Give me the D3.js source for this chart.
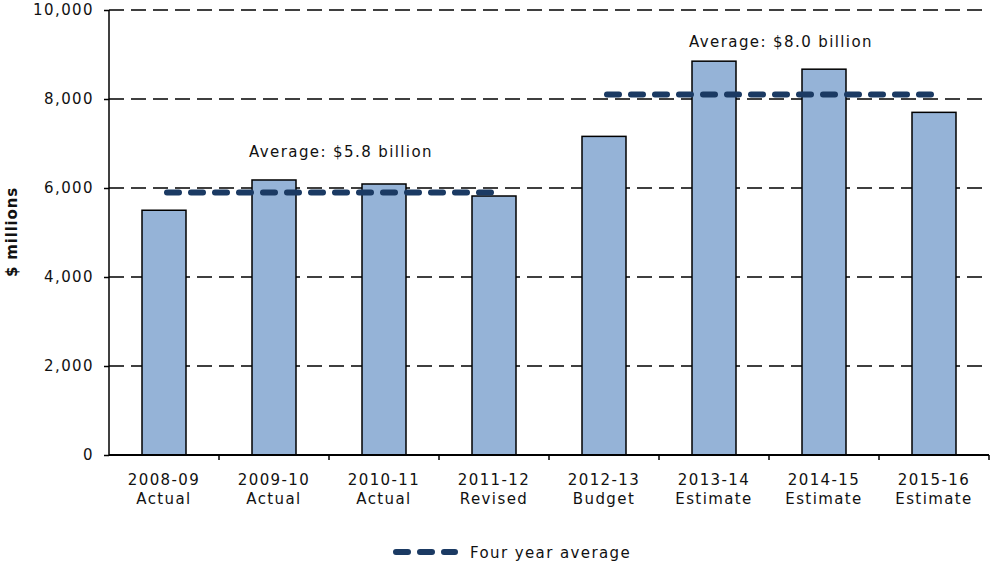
<!DOCTYPE html>
<html><head><meta charset="utf-8">
<script src="https://cdn.jsdelivr.net/npm/d3@7"></script>
<style>body{margin:0;background:#fff}svg text{font-family:"DejaVu Sans",Verdana,sans-serif;fill:#111}</style>
</head><body><svg id="c" width="990" height="566"></svg>
<script>
const years = ["2008-09","2009-10","2010-11","2011-12","2012-13","2013-14","2014-15","2015-16"];
const stages = ["Actual","Actual","Actual","Revised","Budget","Estimate","Estimate","Estimate"];
const values = [5500,6180,6090,5820,7160,8850,8670,7700];
const yTicks = [0,2000,4000,6000,8000,10000];
const averages = [
  {from:"2008-09", to:"2011-12", value:5900, label:"Average: $5.8 billion", labelValue:6700},
  {from:"2012-13", to:"2015-16", value:8100, label:"Average: $8.0 billion", labelValue:9170}
];

const svg = d3.select("#c");
const m = {l:109, r:989, t:10, b:455};
const xb = d3.scaleBand().domain(years).range([m.l, m.r]);
const y = d3.scaleLinear().domain([0,10000]).range([m.b, m.t]);
const FS = "15px", LS = "1.4px";

// gridlines
svg.append("g").selectAll("line").data(yTicks.filter(d=>d>0)).join("line")
  .attr("x1", m.l).attr("x2", m.r).attr("y1", d=>y(d)).attr("y2", d=>y(d))
  .attr("stroke","#000").attr("stroke-width",1.5).attr("stroke-dasharray","15,7");

// bars
svg.append("g").selectAll("rect").data(values).join("rect")
  .attr("x",(d,i)=>xb(years[i])+xb.bandwidth()/2-22)
  .attr("width",44)
  .attr("y",d=>y(d)).attr("height",d=>y(0)-y(d))
  .attr("fill","#95b3d7").attr("stroke","#000").attr("stroke-width",1.5);

// y axis
const ya = svg.append("g").attr("transform",`translate(${m.l},0)`)
  .call(d3.axisLeft(y).tickValues(yTicks).tickFormat(d3.format(",")).tickSize(5).tickPadding(10));
ya.select(".domain").attr("stroke","#000").attr("stroke-width",1.5).attr("d",`M0,${m.b}V${m.t}`);
ya.selectAll(".tick line").attr("stroke","#000").attr("stroke-width",1.5);
ya.selectAll("text").style("font-size",FS).style("letter-spacing",LS).attr("fill","#111");

// x axis
const xa = svg.append("g").attr("transform",`translate(0,${m.b})`)
  .call(d3.axisBottom(xb).tickSize(0).tickFormat(""));
xa.select(".domain").attr("stroke","#000").attr("stroke-width",2).attr("d",`M${m.l},0H${m.r}`);
svg.append("g").selectAll("line").data(years).join("line")
  .attr("x1",d=>xb(d)+xb.bandwidth()).attr("x2",d=>xb(d)+xb.bandwidth())
  .attr("y1",m.b).attr("y2",m.b+5).attr("stroke","#000").attr("stroke-width",1.5);
const xl = svg.append("g").selectAll("text").data(years).join("text")
  .attr("x",d=>xb(d)+xb.bandwidth()/2).attr("y",m.b+30)
  .attr("text-anchor","middle").style("font-size",FS).style("letter-spacing",LS);
xl.append("tspan").attr("x",d=>xb(d)+xb.bandwidth()/2).text(d=>d);
xl.append("tspan").attr("x",d=>xb(d)+xb.bandwidth()/2).attr("dy",19).text((d,i)=>stages[i]);

// averages
const ag = svg.append("g");
ag.selectAll("line").data(averages).join("line")
  .attr("x1",d=>xb(d.from)+xb.bandwidth()/2+3).attr("x2",d=>xb(d.to)+xb.bandwidth()/2-3)
  .attr("y1",d=>y(d.value)).attr("y2",d=>y(d.value))
  .attr("stroke","#1b3a63").attr("stroke-width",6).attr("stroke-linecap","round").attr("stroke-dasharray","12,12");
ag.selectAll("text").data(averages).join("text")
  .attr("x",d=>(xb(d.from)+xb(d.to)+xb.bandwidth())/2+12).attr("y",d=>y(d.labelValue))
  .attr("text-anchor","middle").style("font-size",FS).style("letter-spacing",LS).text(d=>d.label);

// y title
svg.append("text").attr("transform","translate(17,232) rotate(-90)").attr("text-anchor","middle")
  .style("font-size","15px").style("font-weight","bold").style("letter-spacing","0.8px").text("$ millions");

// legend
svg.append("line").attr("x1",396).attr("x2",455).attr("y1",552).attr("y2",552)
  .attr("stroke","#1b3a63").attr("stroke-width",6).attr("stroke-linecap","round").attr("stroke-dasharray","12,12");
svg.append("text").attr("x",470).attr("y",558).style("font-size",FS).style("letter-spacing",LS).text("Four year average");
</script></body></html>
